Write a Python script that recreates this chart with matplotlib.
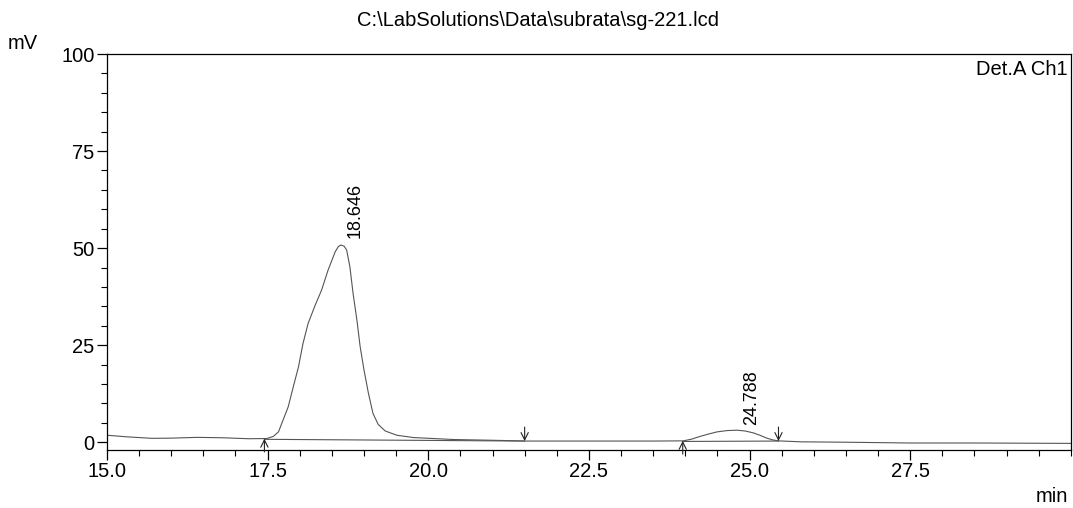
import matplotlib
matplotlib.use("Agg")
import matplotlib.pyplot as plt
from matplotlib.ticker import MultipleLocator

plt.rcParams['font.family'] = ['Liberation Sans', 'DejaVu Sans']

# chromatogram trace (min, mV)
time_min = [15.0, 15.3, 15.7, 16.0, 16.4, 16.8, 17.2, 17.485, 17.59, 17.67,
            17.74, 17.82, 17.90, 17.98, 18.05, 18.13, 18.24, 18.34, 18.44, 18.55,
            18.60, 18.64, 18.69, 18.73, 18.78, 18.83, 18.89, 18.94, 19.0, 19.07,
            19.14, 19.22, 19.33, 19.51, 19.77, 20.39, 21.0, 21.42, 21.5, 22.5,
            23.5, 23.97, 24.1, 24.23, 24.36, 24.49, 24.65, 24.8, 24.93, 25.06,
            25.16, 25.26, 25.36, 25.45, 25.8, 26.5, 27.5, 28.5, 30.0]
signal_mv = [1.8, 1.4, 1.0, 1.05, 1.25, 1.15, 0.9, 0.95, 1.5, 2.7,
             5.7, 9.1, 14.3, 19.4, 25.4, 30.6, 35.3, 39.2, 44.3, 49.0,
             50.4, 50.8, 50.5, 49.5, 45.2, 38.3, 31.4, 24.6, 18.6, 12.5,
             7.4, 4.6, 2.9, 1.8, 1.2, 0.7, 0.5, 0.35, 0.3, 0.3,
             0.3, 0.35, 0.8, 1.5, 2.1, 2.65, 3.0, 3.1, 2.9, 2.4,
             1.8, 1.1, 0.6, 0.35, 0.1, 0.0, -0.2, -0.2, -0.3]

# detected peaks: retention time, label position, integration start/end
peak_rt = ["18.646", "24.788"]
label_t = [18.86, 25.03]
label_v = [52.6, 4.4]
peak_start = [(17.45, 0.9), (23.96, 0.35)]
peak_end = [(21.5, 0.3), (25.45, 0.3)]

fig = plt.figure(figsize=(10.73, 5.08), dpi=100)
ax = fig.add_axes([0.0997, 0.1142, 0.8983, 0.7795])

ax.plot(time_min, signal_mv, color='#555555', lw=0.8)

for (t0, v0), (t1, v1) in zip(peak_start, peak_end):
    ax.plot([t0, t1], [v0 - 0.15, v1], color='#555555', lw=0.8)
    # start marker: up arrow, end marker: down arrow
    ax.annotate('', xy=(t0, v0), xytext=(t0, v0 - 3.4),
                arrowprops=dict(arrowstyle='->', color='#222222', lw=0.8,
                                mutation_scale=13, shrinkA=0, shrinkB=0))
    ax.annotate('', xy=(t1, v1), xytext=(t1, v1 + 3.6),
                arrowprops=dict(arrowstyle='->', color='#222222', lw=0.8,
                                mutation_scale=13, shrinkA=0, shrinkB=0))

for lab, t, v in zip(peak_rt, label_t, label_v):
    ax.text(t, v, lab, rotation=90, ha='center', va='bottom', fontsize=13)

ax.set_xlim(15, 30)
ax.set_ylim(-2, 100)
ax.set_xticks([15.0, 17.5, 20.0, 22.5, 25.0, 27.5])
ax.set_xticklabels(['15.0', '17.5', '20.0', '22.5', '25.0', '27.5'])
ax.set_yticks([0, 25, 50, 75, 100])
ax.xaxis.set_minor_locator(MultipleLocator(0.5))
ax.yaxis.set_minor_locator(MultipleLocator(5))
ax.tick_params(which='major', direction='out', length=7, width=0.9, labelsize=14.5, pad=2)
ax.tick_params(which='minor', direction='out', length=4, width=0.8)
for s in ax.spines.values():
    s.set_linewidth(0.9)

ax.text(0.997, 0.985, 'Det.A Ch1', transform=ax.transAxes, ha='right', va='top', fontsize=14.5)
fig.text(0.501, 0.959, r'C:\LabSolutions\Data\subrata\sg-221.lcd', ha='center', va='center', fontsize=14.5)
fig.text(0.021, 0.915, 'mV', ha='center', va='center', fontsize=14.5)
fig.text(0.980, 0.022, 'min', ha='center', va='center', fontsize=14.5)

fig.savefig('out.png', dpi=100)
